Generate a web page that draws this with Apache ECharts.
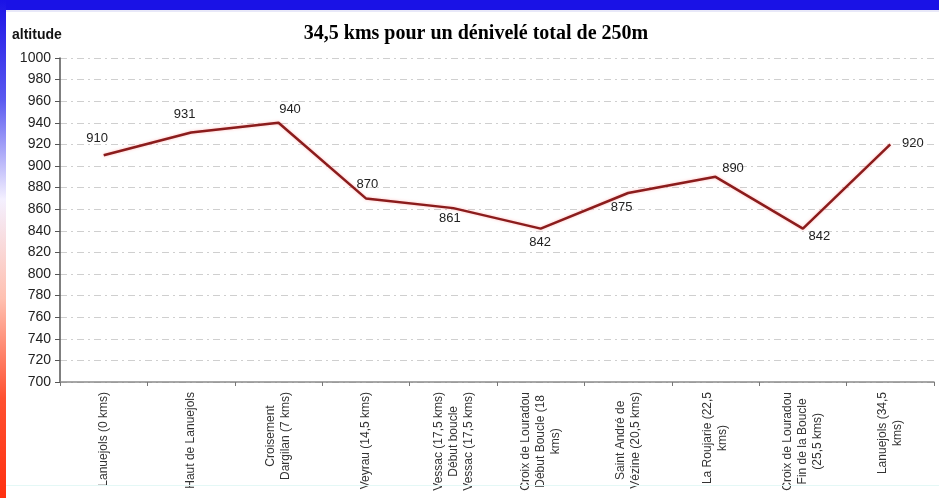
<!DOCTYPE html>
<html>
<head>
<meta charset="utf-8">
<script src="https://cdn.jsdelivr.net/npm/echarts@6/dist/echarts.min.js"></script>
<style>
html,body{margin:0;padding:0;background:#fff;}
#c{width:939px;height:498px;}
</style>
</head>
<body>
<div id="c"></div>
<script>
const titleText = '34,5 kms pour un dénivelé total de 250m';
const yAxisName = 'altitude';
const categories = [
  'Lanuejols (0 kms)',
  'Haut de Lanuejols',
  'Croisement\nDargilan (7 kms)',
  'Veyrau (14,5 kms)',
  'Vessac (17,5 kms)\nDébut boucle\nVessac (17,5 kms)',
  'Croix de Louradou\nDébut Boucle (18\nkms)',
  'Saint André de\nVézine (20,5 kms)',
  'La Roujarie (22,5\nkms)',
  'Croix de Louradou\nFin de la Boucle\n(25,5 kms)',
  'Lanuejols (34,5\nkms)'
];
const altitudes = [910, 931, 940, 870, 861, 842, 875, 890, 842, 920];
const yMin = 700, yMax = 1000, yStep = 20;

// label centre offset from its point, in pixels
const labelShift = [[-6,-16],[-6,-18],[12,-13],[2,-13],[-3,11],[0,14],[-6,15],[18,-8],[17,8],[23,0]];

const chart = echarts.init(document.getElementById('c'), null, {renderer:'canvas'});
const labelFont = 'Arial, "Liberation Sans", sans-serif';

chart.setOption({
  backgroundColor: '#ffffff',
  animation: false,
  title: {
    text: titleText,
    left: 471, top: 19, textAlign: 'center',
    textStyle: {fontFamily: '"Liberation Serif", "DejaVu Serif", serif', fontWeight: 'bold', fontSize: 20, color: '#000'}
  },
  graphic: [
    {type:'rect', left:0, top:0, shape:{width:939, height:10}, style:{fill:'#1a12e6'}, z:100},
    {type:'rect', left:0, top:10, shape:{width:939, height:2}, style:{fill:'#e8e8f8'}, z:100},
    {type:'rect', left:0, top:0, shape:{width:6, height:498},
      style:{fill:{type:'linear', x:0, y:0, x2:0, y2:1, colorStops:[
        {offset:0, color:'#1a12e6'},
        {offset:0.2, color:'#5a5af0'},
        {offset:0.4, color:'#f4f0ff'},
        {offset:0.6, color:'#ffc0b0'},
        {offset:0.8, color:'#ff5030'},
        {offset:1, color:'#ff3010'}]}}, z:101},
    {type:'rect', left:6, top:485, shape:{width:933, height:1}, style:{fill:'#e4f8f6'}, z:100}
  ],
  grid: {left: 60, right: 5, top: 58, bottom: 116, containLabel: false},
  xAxis: {
    type: 'category',
    data: categories,
    boundaryGap: true,
    axisLine: {lineStyle: {color: '#8a8a8a', width: 1.5}},
    axisTick: {show: true, length: 4, lineStyle: {color: '#777'}},
    axisLabel: {
      interval: 0, rotate: 90, margin: 10,
      fontFamily: labelFont, fontSize: 12, color: '#333', lineHeight: 15,
      formatter: v => v.split('\n').map(l => '{c|' + l + '}').join('\n'),
      rich: {c: {align: 'center', fontFamily: labelFont, fontSize: 12, color: '#333', lineHeight: 15}}
    },
    splitLine: {show: false}
  },
  yAxis: {
    type: 'value',
    min: yMin, max: yMax, interval: yStep,
    name: yAxisName,
    nameLocation: 'end',
    nameGap: 0,
    nameTextStyle: {fontFamily: labelFont, fontWeight: 'bold', fontSize: 14, color: '#111', align: 'left', padding: [0,0,16,-48]},
    axisLine: {show: true, lineStyle: {color: '#555', width: 1.5}},
    axisTick: {show: true, length: 5, lineStyle: {color: '#555'}},
    axisLabel: {fontFamily: labelFont, fontSize: 14, color: '#222', margin: 9, formatter: v => String(v)},
    splitLine: {show: true, lineStyle: {color: '#cfcfcf', type: [7,4,2,4], width: 1}}
  },
  series: [{
    type: 'line',
    data: altitudes.map((v, i) => ({value: v, label: {position: labelShift[i]}})),
    showSymbol: true,
    symbol: 'circle',
    symbolSize: 1,
    itemStyle: {color: 'rgba(0,0,0,0)', borderWidth: 0},
    lineStyle: {color: '#8b1c1c', width: 2.5, shadowColor: 'rgba(255,140,140,0.6)', shadowBlur: 3},
    label: {show: true, fontFamily: labelFont, fontSize: 13, color: '#222', align: 'center', verticalAlign: 'middle'},
    labelLayout: {hideOverlap: false}
  }]
});
</script>
</body>
</html>
